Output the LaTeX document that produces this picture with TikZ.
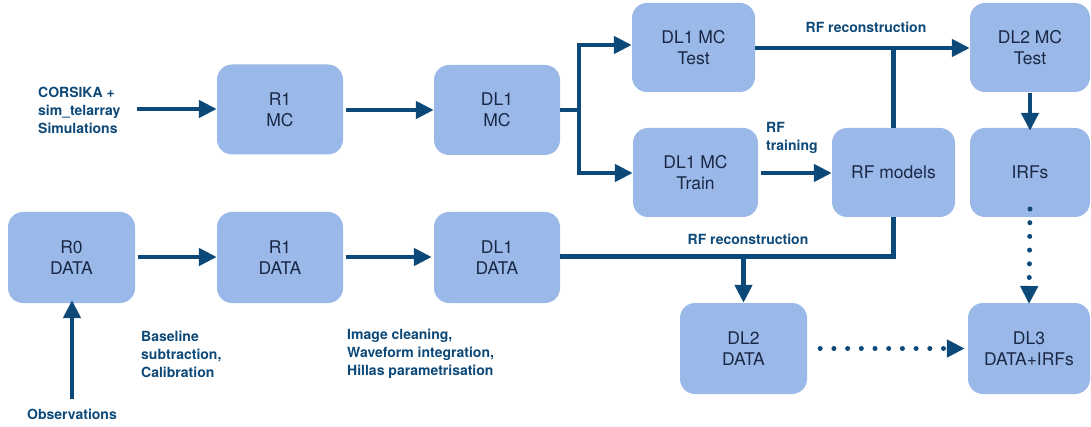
\documentclass[tikz,border=0pt]{standalone}
\usepackage{fontspec}
\setmainfont{TeX Gyre Heros}
\usetikzlibrary{arrows.meta}
\definecolor{boxfill}{RGB}{155,185,232}
\definecolor{boxtext}{RGB}{26,40,70}
\definecolor{arrowc}{RGB}{12,72,120}
\tikzset{
  stagebox/.style={fill=boxfill, rounded corners=15pt, inner sep=0pt, align=center,
    text=boxtext, font=\fontsize{17.5}{21}\selectfont},
  lbl/.style={text=arrowc, font=\bfseries\fontsize{14}{18}\selectfont, inner sep=0pt},
  conn/.style={draw=arrowc, line width=4.5pt},
  arr/.style={conn, -{Triangle[length=18pt,width=17pt]}},
  dotarr/.style={draw=arrowc, line width=5pt, line cap=round, dash pattern=on 0pt off 13.7pt,
    -{Triangle[length=18pt,width=17pt,line cap=butt]}},
}
\begin{document}
\begin{tikzpicture}[x=1pt,y=-1pt]
\useasboundingbox (0,0) rectangle (1091,427);
% boxes
\node[stagebox, minimum width=126pt, minimum height=90pt] (r1mc) at (280,109.5) {R1\\MC};
\node[stagebox, minimum width=126pt, minimum height=90pt] (dl1mc) at (497,110) {DL1\\MC};
\node[stagebox, minimum width=123pt, minimum height=89pt] (test) at (693.5,47.5) {DL1 MC\\Test};
\node[stagebox, minimum width=125pt, minimum height=89pt] (train) at (695.5,172.5) {DL1 MC\\Train};
\node[stagebox, minimum width=123pt, minimum height=89pt] (rf) at (893.5,172.5) {RF models};
\node[stagebox, minimum width=120pt, minimum height=89pt] (dl2mc) at (1030,47.5) {DL2 MC\\Test};
\node[stagebox, minimum width=120pt, minimum height=89pt] (irf) at (1030,172.5) {IRFs};
\node[stagebox, minimum width=127pt, minimum height=91pt] (r0) at (71.5,257.5) {R0\\DATA};
\node[stagebox, minimum width=126pt, minimum height=91pt] (r1d) at (280,257.5) {R1\\DATA};
\node[stagebox, minimum width=126pt, minimum height=91pt] (dl1d) at (497,257.5) {DL1\\DATA};
\node[stagebox, minimum width=127pt, minimum height=91pt] (dl2d) at (743.5,348.5) {DL2\\DATA};
\node[stagebox, minimum width=122pt, minimum height=91pt] (dl3) at (1029,348.5) {DL3\\DATA+IRFs};
% labels
\node[lbl, align=left, anchor=west] (corsika) at (38,110) {CORSIKA +\\sim\_telarray\\Simulations};
\node[lbl] (obs) at (72,414) {Observations};
\node[lbl, align=left, anchor=west] (base) at (141,354) {Baseline\\subtraction,\\Calibration};
\node[lbl, align=left, anchor=west] (clean) at (347,354) {Image cleaning,\\Waveform integration,\\Hillas parametrisation};
\node[lbl] (rfrec1) at (866,27) {RF reconstruction};
\node[lbl, align=left, anchor=west] (rftrain) at (766,137.5) {RF\\training};
\node[lbl] (rfrec2) at (748,239) {RF reconstruction};
% coordinates
\coordinate (cs) at (137,109);
\coordinate (j) at (579,110);
\coordinate (obsstart) at (72,399);
\coordinate (dd) at (743.5,257);
% connectors
\draw[arr] (cs) -- (r1mc.west |- cs);
\draw[arr] ([xshift=3pt]r1mc.east |- 0,110) -- (dl1mc.west |- 0,110);
\draw[conn] (dl1mc.east) -- (j);
\draw[arr, line join=miter] (j) |- (test.west |- 0,45);
\draw[arr, line join=miter] (j) |- (train.west |- 0,173);
\draw[arr] (test.east |- 0,48) -- (dl2mc.west |- 0,48);
\draw[conn] (rf.north) -- (rf.north |- 0,48);
\draw[arr] ([xshift=3pt]train.east |- 0,173) -- (rf.west |- 0,173);
\draw[arr] ([yshift=-1pt]dl2mc.south |- 0,92) -- ([yshift=-3pt]irf.north);
\draw[dotarr] ([yshift=8pt]irf.south |- 0,217) -- ([yshift=-1pt]dl3.north |- 0,303);
\draw[arr] ([xshift=3pt]r0.east |- 0,257) -- (r1d.west |- 0,257);
\draw[arr] ([xshift=3pt]r1d.east |- 0,257) -- ([xshift=-2pt]dl1d.west |- 0,257);
\draw[conn, line join=miter] (dl1d.east |- 0,256.5) -| (rf.south);
\draw[arr] (dd) -- (dl2d.north);
\draw[dotarr] ([xshift=13pt]dl2d.east) -- ([xshift=-3pt]dl3.west);
\draw[arr] (obsstart) -- ([yshift=3pt]r0.south -| obsstart);
\end{tikzpicture}
\end{document}
